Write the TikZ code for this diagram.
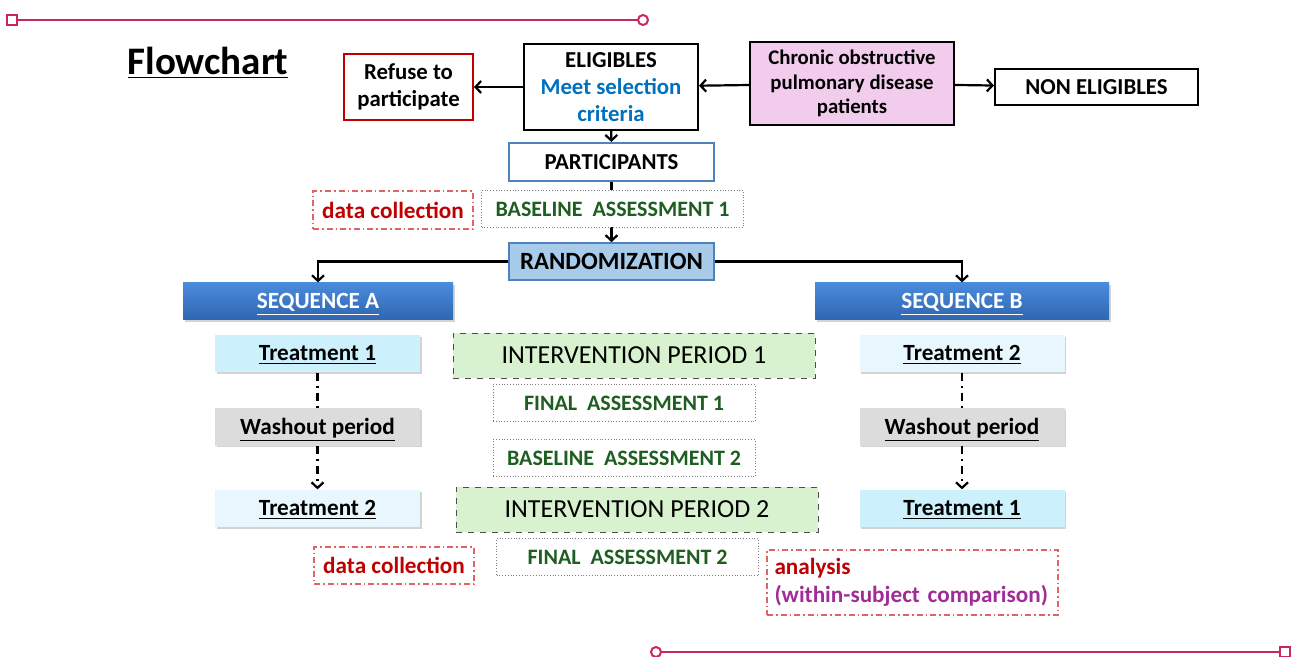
\documentclass[tikz,border=0pt]{standalone}
\usepackage{fontspec}
\setmainfont{Carlito}
\usetikzlibrary{arrows.meta,shadows}

\definecolor{deco}{RGB}{200,40,90}
\definecolor{refred}{RGB}{192,0,0}
\definecolor{critblue}{RGB}{0,112,192}
\definecolor{copdpink}{RGB}{241,204,236}
\definecolor{partblue}{RGB}{79,129,189}
\definecolor{assgreen}{RGB}{30,94,32}
\definecolor{randfill}{RGB}{168,203,234}
\definecolor{seqtop}{RGB}{74,139,220}
\definecolor{seqbot}{RGB}{46,102,178}
\definecolor{treatcyan}{RGB}{204,240,252}
\definecolor{treatlight}{RGB}{232,247,253}
\definecolor{washgray}{RGB}{220,220,220}
\definecolor{ipgreen}{RGB}{216,242,208}
\definecolor{dcred}{RGB}{224,100,100}
\definecolor{anpurple}{RGB}{160,44,152}

\begin{document}
\begin{tikzpicture}[x=0.5pt,y=-0.5pt,>={Straight Barb[length=2.8pt,width=6pt]},semithick,
    box/.style={draw,inner sep=0pt,align=center,
      font=\bfseries\fontsize{11.4}{13.4}\selectfont},
    treat/.style={box,draw=none,minimum width=102.5pt,minimum height=18.5pt,
      text height=7.2pt,text depth=0pt,font=\bfseries\fontsize{11.6}{13}\selectfont,
      drop shadow={shadow xshift=0.8pt,shadow yshift=-0.8pt,opacity=0.35}},
    seq/.style={box,draw=none,minimum height=18.5pt,text=white,
      text height=7pt,text depth=0pt,font=\bfseries\fontsize{11.6}{13}\selectfont,
      top color=seqtop,bottom color=seqbot,
      drop shadow={shadow xshift=0.8pt,shadow yshift=-0.8pt,opacity=0.35}},
    assess/.style={box,draw=gray,densely dotted,thin,text=assgreen,
      minimum width=131pt,minimum height=18.5pt,font=\bfseries\fontsize{11}{13}\selectfont},
    period/.style={box,draw=black!70,dashed,thin,fill=ipgreen,
      minimum width=181pt,minimum height=22.5pt,
      font=\fontsize{13}{15}\selectfont},
    collect/.style={box,draw=dcred,line width=0.6pt,
      dash pattern=on 3pt off 1.5pt on 0.8pt off 1.5pt,text=refred,
      font=\bfseries\fontsize{11.6}{14}\selectfont},
    flow/.style={->,line width=1.1pt},
    steps/.style={->,line width=1.1pt,dash pattern=on 4pt off 2.5pt on 1pt off 2.5pt}]

  \useasboundingbox (0,0) rectangle (1295,657);

  % frame decoration
  \draw[deco,line width=1pt] (17,20) -- (638,20);
  \draw[deco,line width=1pt] (7,15) rectangle (17,25);
  \draw[deco,line width=1pt] (643,20) circle[radius=5];
  \draw[deco,line width=1pt] (661,652) -- (1280,652);
  \draw[deco,line width=1pt] (656,652) circle[radius=5];
  \draw[deco,line width=1pt] (1280,647) rectangle (1290,657);

  \node[font=\bfseries\fontsize{19.5}{22}\selectfont] (title) at (208,63)
    {\underline{Flowchart}};

  % screening
  \node[box,draw=refred,line width=1pt,minimum width=64.5pt,minimum height=33pt]
    (refuse) at (408.5,87) {Refuse to\\participate};
  \node[box,line width=1pt,minimum width=87pt,minimum height=43pt]
    (elig) at (611,87) {ELIGIBLES\\\textcolor{critblue}{Meet selection}\\\textcolor{critblue}{criteria}};
  \node[box,fill=copdpink,line width=1pt,minimum width=102pt,minimum height=41.5pt,
    font=\bfseries\fontsize{10.4}{12.2}\selectfont]
    (copd) at (852,83.5) {Chronic obstructive\\pulmonary disease\\patients};
  \node[box,line width=1pt,minimum width=101.5pt,minimum height=18pt]
    (noneli) at (1096.5,87) {NON ELIGIBLES};

  \node[box,draw=partblue,line width=1pt,minimum width=102.5pt,minimum height=19pt]
    (part) at (611.5,162) {PARTICIPANTS};
  \node[box,draw=partblue,fill=randfill,line width=0.8pt,minimum width=102.5pt,
    minimum height=18.5pt,font=\bfseries\fontsize{12.4}{14}\selectfont]
    (rand) at (611.5,261.5) {RANDOMIZATION};

  \path[flow] (elig) edge (refuse)
              (copd) edge (elig)
              (copd) edge (noneli)
              (elig) edge (part)
              (part) edge (rand);

  \node[assess,fill=white] (base1) at (612.5,209) {BASELINE\ \ ASSESSMENT 1};
  \node[collect,minimum width=80pt,minimum height=19pt]
    (dc1) at (393,210) {data collection};

  % sequences
  \node[seq,minimum width=135pt] (seqA) at (318,301.5) {\underline{SEQUENCE A}};
  \node[seq,minimum width=147pt] (seqB) at (962,301.5) {\underline{SEQUENCE B}};
  \draw[flow] (rand.west) -| (seqA.north);
  \draw[flow] (rand.east) -| (seqB.north);

  \node[treat,fill=treatcyan] (tA1) at (317.5,353.5) {\underline{Treatment 1}};
  \node[treat,fill=washgray] (wA) at (317.5,427) {\underline{Washout period}};
  \node[treat,fill=treatlight] (tA2) at (317.5,508.5) {\underline{Treatment 2}};
  \node[treat,fill=treatlight] (tB2) at (962,353.5) {\underline{Treatment 2}};
  \node[treat,fill=washgray] (wB) at (962,427) {\underline{Washout period}};
  \node[treat,fill=treatcyan] (tB1) at (962,508.5) {\underline{Treatment 1}};

  \draw[steps,-] (tA1) -- (wA);
  \draw[steps] (wA) -- (tA2);
  \draw[steps,-] (tB2) -- (wB);
  \draw[steps] (wB) -- (tB1);

  % periods
  \node[period] (ip1) at (634,355.5) {INTERVENTION PERIOD 1};
  \node[assess] (fa1) at (624,403) {FINAL\ \ ASSESSMENT 1};
  \node[assess] (ba2) at (624,458) {BASELINE\ \ ASSESSMENT 2};
  \node[period] (ip2) at (637,509.5) {INTERVENTION PERIOD 2};
  \node[assess] (fa2) at (627.5,557) {FINAL\ \ ASSESSMENT 2};

  \node[collect,minimum width=80pt,minimum height=18.5pt]
    (dc2) at (394,565.5) {data collection};
  \node[collect,align=left,text width=138pt,inner xsep=3.75pt,minimum height=32.5pt]
    (analysis) at (912.5,582.5)
    {analysis\\\mbox{\textcolor{anpurple}{(within-subject comparison)}}};
\end{tikzpicture}
\end{document}
